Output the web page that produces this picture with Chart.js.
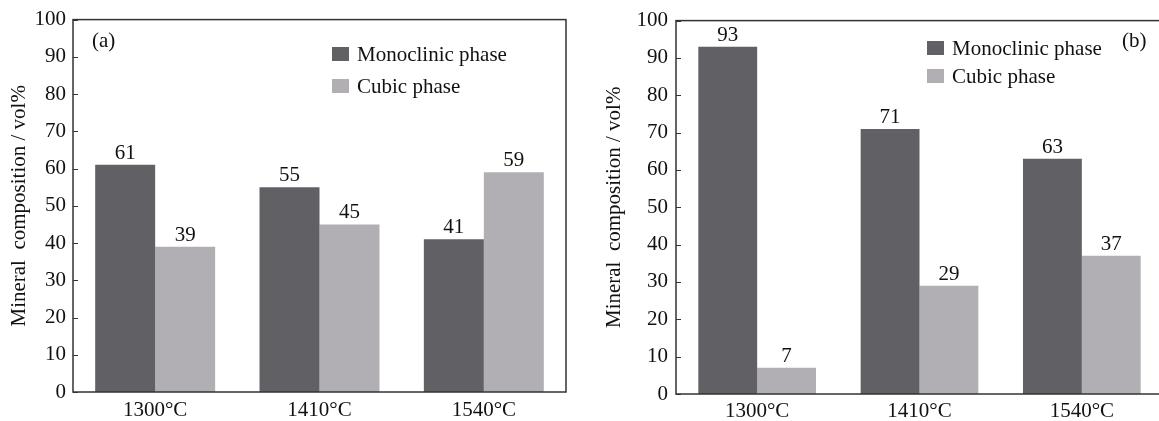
<!DOCTYPE html>
<html>
<head>
<meta charset="utf-8">
<script src="https://cdn.jsdelivr.net/npm/chart.js@4"></script>
<style>
  body { margin: 0; background: #fff; overflow: hidden; width: 1159px; height: 421px; }
  .panel { position: absolute; top: 0; height: 421px; }
  #panelA { left: 0; width: 590px; }
  #panelB { left: 580px; width: 600px; }
</style>
</head>
<body>
<div class="panel" id="panelA"><canvas id="chartA"></canvas></div>
<div class="panel" id="panelB"><canvas id="chartB"></canvas></div>
<script>
// Datos
const categories = ['1300°C', '1410°C', '1540°C'];
const seriesNames = ['Monoclinic phase', 'Cubic phase'];
const monoclinicA = [61, 55, 41];
const cubicA = [39, 45, 59];
const monoclinicB = [93, 71, 63];
const cubicB = [7, 29, 37];
const yTicks = [0, 10, 20, 30, 40, 50, 60, 70, 80, 90, 100];

const DARK = '#616064';
const LIGHT = '#b1afb4';
const AXIS = '#333333';
const FONT = '"Liberation Serif", "Times New Roman", serif';

// Plugin: marco, ticks hacia dentro, etiquetas, leyenda y letra del panel
const decorPlugin = {
    id: 'decor',
    afterDatasetsDraw(chart, args, opts) {
        const ctx = chart.ctx;
        const area = chart.chartArea;
        const y = chart.scales.y;
        ctx.save();

        // valores encima de las barras
        ctx.fillStyle = '#111';
        ctx.font = '21px ' + FONT;
        ctx.textAlign = 'center';
        ctx.textBaseline = 'alphabetic';
        chart.data.datasets.forEach((ds, i) => {
            chart.getDatasetMeta(i).data.forEach((bar, j) => {
                ctx.fillText(ds.data[j], bar.x, bar.y - 6);
            });
        });

        // marco
        ctx.strokeStyle = AXIS;
        ctx.lineWidth = 1.5;
        ctx.strokeRect(area.left, area.top, area.right - area.left, area.bottom - area.top);

        // ticks hacia dentro
        ctx.lineWidth = 1;
        yTicks.forEach(v => {
            const py = Math.round(y.getPixelForValue(v)) + 0.5;
            ctx.beginPath();
            ctx.moveTo(area.left, py);
            ctx.lineTo(area.left + 5, py);
            ctx.stroke();
        });

        // leyenda
        ctx.font = '21px ' + FONT;
        ctx.textAlign = 'left';
        ctx.textBaseline = 'middle';
        chart.data.datasets.forEach((ds, i) => {
            const ly = opts.legendY + i * opts.legendGap;
            ctx.fillStyle = ds.backgroundColor;
            ctx.fillRect(opts.legendX, ly - 7, 17, 14);
            ctx.fillStyle = '#111';
            ctx.fillText(ds.label, opts.legendX + 25, ly + 1);
        });

        // letra del panel
        ctx.fillText(opts.tag, opts.tagX, opts.tagY);
        ctx.restore();
    }
};

function makeChart(id, mono, cubic, cfg) {
    return new Chart(document.getElementById(id), {
        type: 'bar',
        data: {
            labels: categories,
            datasets: [
                { label: seriesNames[0], data: mono, backgroundColor: DARK },
                { label: seriesNames[1], data: cubic, backgroundColor: LIGHT }
            ]
        },
        options: {
            responsive: true,
            maintainAspectRatio: false,
            animation: false,
            layout: { padding: { top: cfg.top, right: cfg.right, left: 0, bottom: 0 } },
            datasets: { bar: { barPercentage: 1, categoryPercentage: cfg.catPct } },
            scales: {
                x: {
                    grid: { display: false, drawTicks: false },
                    border: { display: false },
                    ticks: { color: '#111', font: { family: FONT, size: 21 }, padding: cfg.xPad },
                    afterFit: s => { s.height = cfg.xHeight; }
                },
                y: {
                    min: 0, max: 100,
                    afterBuildTicks: s => { s.ticks = yTicks.map(v => ({ value: v })); },
                    grid: { display: false, drawTicks: false },
                    border: { display: false },
                    ticks: { color: '#111', font: { family: FONT, size: 21 }, padding: cfg.yPad },
                    title: {
                        display: true,
                        text: 'Mineral  composition / vol%',
                        color: '#111',
                        font: { family: FONT, size: 21 },
                        padding: { top: cfg.titlePad, bottom: 0 }
                    },
                    afterFit: s => { s.width = cfg.yWidth; }
                }
            },
            plugins: {
                legend: { display: false },
                tooltip: { enabled: false },
                decor: cfg.decor
            }
        },
        plugins: [decorPlugin]
    });
}

makeChart('chartA', monoclinicA, cubicA, {
    top: 17, right: 24, xHeight: 29, yWidth: 73, catPct: 0.73,
    xPad: 6, yPad: 7, titlePad: 7,
    decor: { legendX: 332, legendY: 54, legendGap: 32, tag: '(a)', tagX: 92, tagY: 41 }
});

makeChart('chartB', monoclinicB, cubicB, {
    top: 19, right: 17, xHeight: 27, yWidth: 96, catPct: 0.725,
    xPad: 5, yPad: 8, titlePad: 22,
    decor: { legendX: 347, legendY: 48, legendGap: 28, tag: '(b)', tagX: 542, tagY: 41 }
});
</script>
</body>
</html>
